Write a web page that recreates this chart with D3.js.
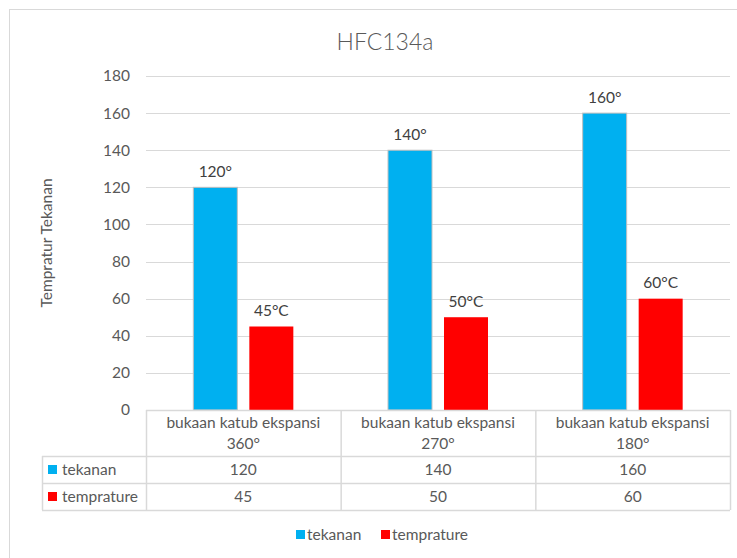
<!DOCTYPE html>
<html>
<head>
<meta charset="utf-8">
<script src="https://cdn.jsdelivr.net/npm/d3@7"></script>
<style>
  html, body { margin: 0; padding: 0; background: #fff; }
  svg text { font-family: Lato, "Open Sans", sans-serif; }
</style>
</head>
<body>
<svg id="chart" width="737" height="558"></svg>
<script>
// ── Data ─────────────────────────────────────────────────────────
const categories = ['bukaan katub ekspansi 360°', 'bukaan katub ekspansi 270°', 'bukaan katub ekspansi 180°'];
const seriesNames = ['tekanan', 'temprature'];
const tekanan = [120, 140, 160];
const temprature = [45, 50, 60];
const labelSuffix = ['°', '°C'];
const yTicks = [0, 20, 40, 60, 80, 100, 120, 140, 160, 180];
const seriesColors = ['#00B0F0', '#FF0000'];

const values = [tekanan, temprature];

// ── Layout ───────────────────────────────────────────────────────
const svg = d3.select('#chart');
const plotLeft = 146, plotRight = 730, plotTop = 76, plotBottom = 410;
const rowY = [410, 456, 483, 510];
const tableLeft = 42;
const textColor = '#595959';
const gridColor = '#d9d9d9';
const fs = '15.5px';

svg.append('rect').attr('width', 737).attr('height', 558).attr('fill', '#fff');

// chart area border
svg.append('rect')
  .attr('x', 9.5).attr('y', 9.5)
  .attr('width', 780).attr('height', 600)
  .attr('fill', 'none').attr('stroke', gridColor);

// title
svg.append('text')
  .attr('x', 385).attr('y', 50)
  .attr('text-anchor', 'middle')
  .attr('fill', textColor)
  .attr('font-size', '23px')
  .attr('font-weight', 300)
  .text('HFC134a');

const x = d3.scaleBand().domain(categories).range([plotLeft, plotRight]);
const y = d3.scaleLinear().domain([0, 180]).range([plotBottom, plotTop]);
const clusterW = 100;
const x1 = d3.scaleBand().domain(seriesNames).range([0, clusterW]).paddingInner(12 / 56);

// gridlines
svg.append('g').selectAll('line')
  .data(yTicks.filter(t => t > 0))
  .enter().append('line')
  .attr('x1', plotLeft).attr('x2', plotRight)
  .attr('y1', d => Math.round(y(d)) + 0.5).attr('y2', d => Math.round(y(d)) + 0.5)
  .attr('stroke', gridColor).attr('stroke-width', 1);

// y tick labels
svg.append('g').selectAll('text')
  .data(yTicks)
  .enter().append('text')
  .attr('x', 130).attr('y', d => y(d))
  .attr('dy', '0.35em')
  .attr('text-anchor', 'end')
  .attr('fill', textColor)
  .attr('font-size', fs)
  .text(d => d);

// y axis title
svg.append('text')
  .attr('transform', `translate(52,${(plotTop + plotBottom) / 2}) rotate(-90)`)
  .attr('text-anchor', 'middle')
  .attr('fill', textColor)
  .attr('font-size', fs)
  .text('Tempratur Tekanan');

// bars
seriesNames.forEach((s, si) => {
  const g = svg.append('g');
  const rows = categories.map((c, i) => ({ c, v: values[si][i] }));
  g.selectAll('rect')
    .data(rows)
    .enter().append('rect')
    .attr('x', d => x(d.c) + (x.bandwidth() - clusterW) / 2 + x1(s))
    .attr('y', d => y(d.v))
    .attr('width', x1.bandwidth())
    .attr('height', d => plotBottom - y(d.v))
    .attr('fill', seriesColors[si])
    .attr('stroke', si === 0 ? '#bfbfbf' : 'none')
    .attr('stroke-width', 1);

  g.selectAll('text')
    .data(rows)
    .enter().append('text')
    .attr('x', d => x(d.c) + (x.bandwidth() - clusterW) / 2 + x1(s) + x1.bandwidth() / 2)
    .attr('y', d => y(d.v) - 16)
    .attr('dy', '0.35em')
    .attr('text-anchor', 'middle')
    .attr('fill', '#404040')
    .attr('font-size', fs)
    .text(d => d.v + labelSuffix[si]);
});

// ── Data table ───────────────────────────────────────────────────
const table = svg.append('g');
const hline = (xa, xb, yy) => table.append('line')
  .attr('x1', xa).attr('x2', xb).attr('y1', yy + 0.5).attr('y2', yy + 0.5)
  .attr('stroke', gridColor).attr('stroke-width', 1.5);
const vline = (xx, ya, yb) => table.append('line')
  .attr('x1', xx + 0.5).attr('x2', xx + 0.5).attr('y1', ya).attr('y2', yb)
  .attr('stroke', gridColor).attr('stroke-width', 1.5);

hline(plotLeft, plotRight, rowY[0]);
hline(tableLeft, plotRight, rowY[1]);
hline(tableLeft, plotRight, rowY[2]);
hline(tableLeft, plotRight, rowY[3]);
vline(tableLeft, rowY[1], rowY[3]);
vline(plotLeft, rowY[0], rowY[3]);
categories.forEach(c => vline(x(c) + x.bandwidth(), rowY[0], rowY[3]));

// header cells (two lines)
categories.forEach(c => {
  const idx = c.lastIndexOf(' ');
  const cx = x(c) + x.bandwidth() / 2;
  table.append('text')
    .attr('x', cx).attr('y', 423).attr('dy', '0.35em')
    .attr('text-anchor', 'middle').attr('fill', textColor).attr('font-size', fs)
    .text(c.slice(0, idx));
  table.append('text')
    .attr('x', cx).attr('y', 444).attr('dy', '0.35em')
    .attr('text-anchor', 'middle').attr('fill', textColor).attr('font-size', fs)
    .text(c.slice(idx + 1));
});

// value rows
seriesNames.forEach((s, si) => {
  const cy = (rowY[si + 1] + rowY[si + 2]) / 2;
  table.append('rect')
    .attr('x', 48).attr('y', cy - 4.5)
    .attr('width', 9).attr('height', 9)
    .attr('fill', seriesColors[si]);
  table.append('text')
    .attr('x', 62).attr('y', cy).attr('dy', '0.35em')
    .attr('fill', textColor).attr('font-size', fs)
    .text(s);
  categories.forEach((c, i) => {
    table.append('text')
      .attr('x', x(c) + x.bandwidth() / 2).attr('y', cy).attr('dy', '0.35em')
      .attr('text-anchor', 'middle').attr('fill', textColor).attr('font-size', fs)
      .text(values[si][i]);
  });
});

// ── Legend ───────────────────────────────────────────────────────
const legendX = [296, 381];
const legend = svg.append('g');
seriesNames.forEach((s, si) => {
  legend.append('rect')
    .attr('x', legendX[si]).attr('y', 530)
    .attr('width', 9).attr('height', 9)
    .attr('fill', seriesColors[si]);
  legend.append('text')
    .attr('x', legendX[si] + 11).attr('y', 534.5).attr('dy', '0.35em')
    .attr('fill', textColor).attr('font-size', fs)
    .text(s);
});
</script>
</body>
</html>
